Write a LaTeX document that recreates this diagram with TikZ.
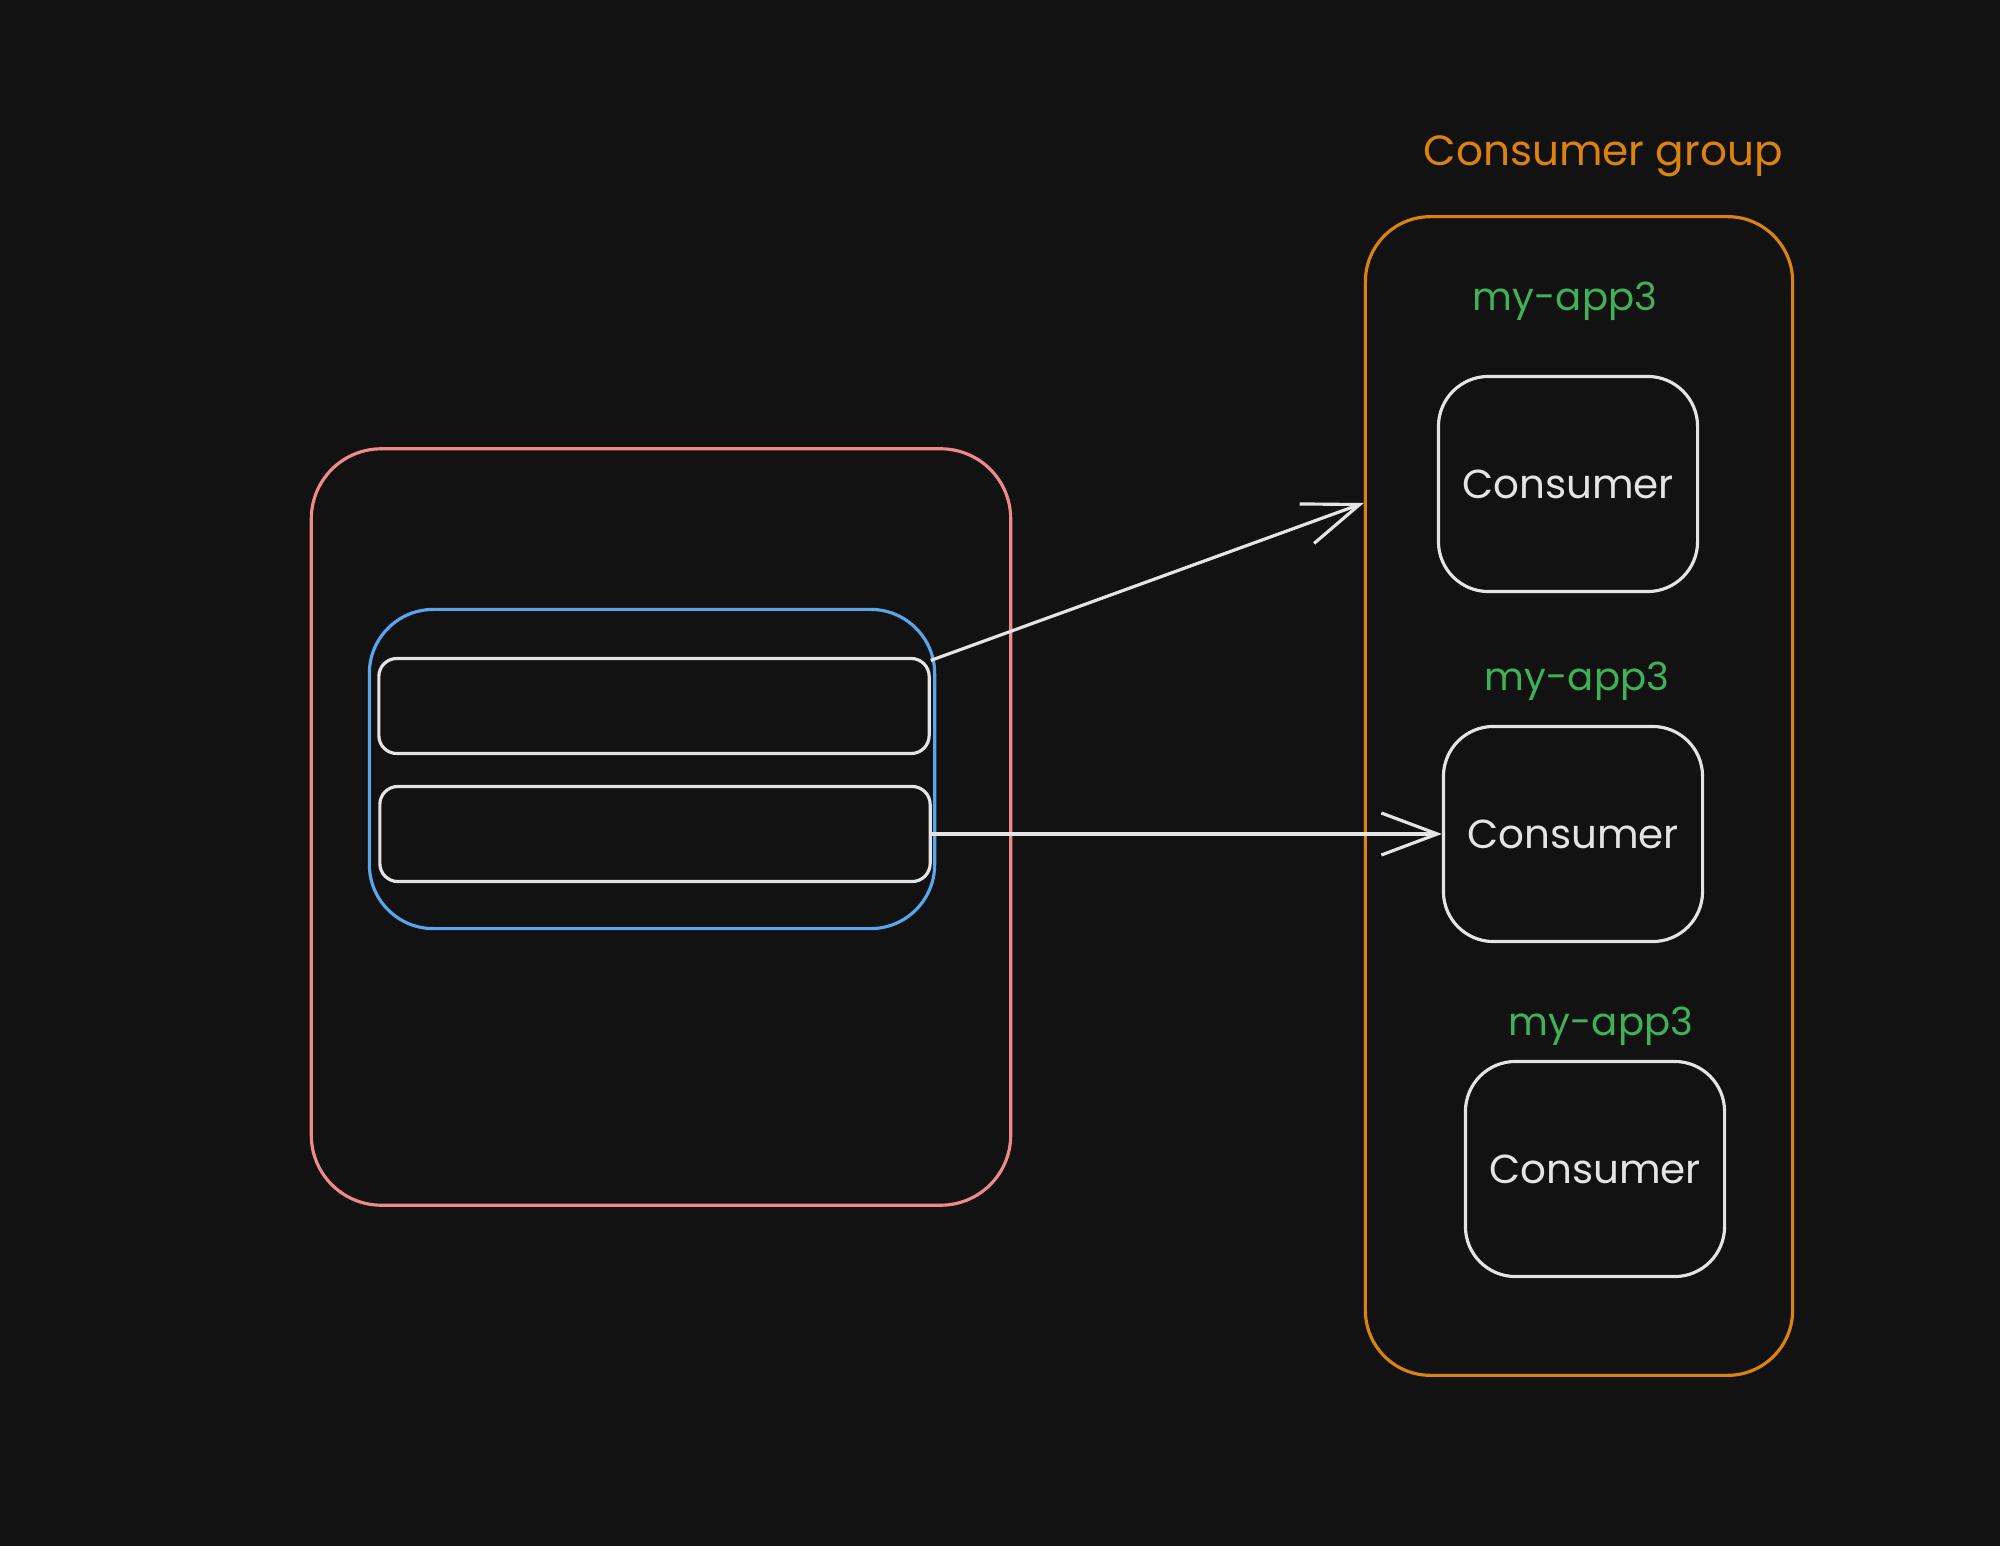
\documentclass[tikz,border=0pt]{standalone}
\usepackage{fontspec}
\setmainfont{Poppins}
\usepackage{tikz}
\usetikzlibrary{arrows.meta}
\definecolor{bgdark}{HTML}{121212}
\definecolor{appred}{HTML}{F08A8A}
\definecolor{topicblue}{HTML}{5AA6EC}
\definecolor{grporange}{HTML}{DB820F}
\definecolor{appgreen}{HTML}{3FB257}
\definecolor{inkwhite}{HTML}{E4E4E4}
\tikzset{
  sketch/.style    = {draw,line width=0.9pt,rounded corners=#1,inner sep=0pt},
  sketch/.default  = 5mm,
  flowarr/.style   = {-{Straight Barb[length=5.6mm,width=4.2mm]},line width=0.9pt,inkwhite},
  partbox/.style   = {sketch=1.8mm,inkwhite,minimum width=5.5cm,minimum height=0.95cm},
  consbox/.style   = {sketch=5mm,inkwhite,minimum width=2.59cm,minimum height=2.15cm,
                      font=\fontsize{11.5}{14}\selectfont,text=inkwhite},
  applbl/.style    = {text=appgreen,font=\fontsize{11}{13}\selectfont}
}
\begin{document}
\begin{tikzpicture}[x=0.01cm,y=-0.01cm]
  \useasboundingbox[fill=bgdark] (0,0) rectangle (2000,1546);
  \node[sketch=7mm,appred,minimum width=6.99cm,minimum height=7.56cm]       (app)   at (661,827)  {};
  \node[sketch=6.4mm,topicblue,minimum width=5.65cm,minimum height=3.19cm]  (topic) at (652,769)  {};
  \node[partbox] (partA) at (654,706) {};
  \node[partbox] (partB) at (655,834) {};
  \node[sketch=6.5mm,grporange,minimum width=4.27cm,minimum height=11.58cm] (group) at (1579,796) {};
  \node[text=grporange,font=\fontsize{12}{14}\selectfont] (title) at (1603,156) {Consumer group};
  \node[applbl]  (lblA)  at (1565,301)  {my-app3};
  \node[consbox] (consA) at (1568,484)  {Consumer};
  \node[applbl]  (lblB)  at (1577,681)  {my-app3};
  \node[consbox] (consB) at (1573,834)  {Consumer};
  \node[applbl]  (lblC)  at (1601,1026) {my-app3};
  \node[consbox] (consC) at (1595,1169) {Consumer};
  \coordinate (grpIn) at (group.west |- 0,503);
  \draw[flowarr] ([yshift=-1pt]partA.north east) -- (grpIn);
  \draw[flowarr] (partB.east) -- (consB.west);
\end{tikzpicture}
\end{document}
